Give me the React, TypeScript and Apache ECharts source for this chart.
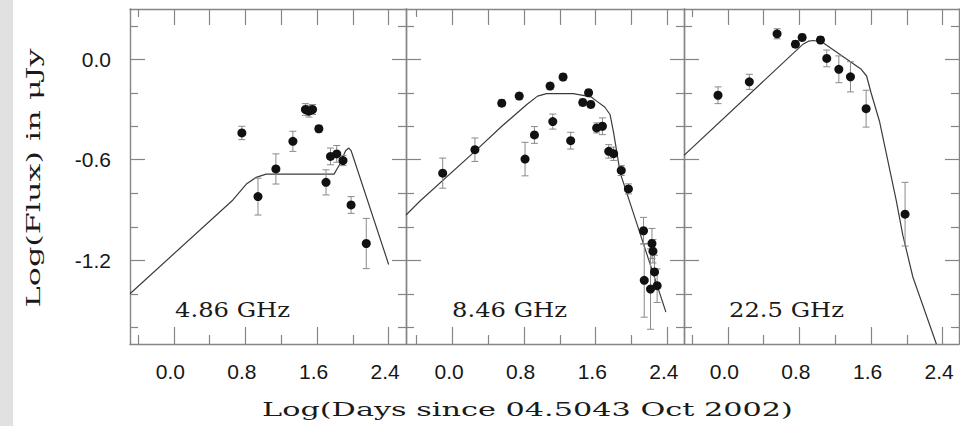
import React, { useEffect, useRef } from 'react';
import * as echarts from 'echarts';

// ---------------- data ----------------
const panelLabels = ['4.86 GHz', '8.46 GHz', '22.5 GHz'];
const xTitle = 'Log(Days since 04.5043 Oct 2002)';
const yTitle = 'Log(Flux) in \u03BCJy';

const xMajorTicks = [0, 0.8, 1.6, 2.4];
const xMinorTicks = [-0.4, 0.4, 1.2, 2.0];
const xTopTicks = [0, 0.4, 0.8, 1.2, 1.6, 2.0, 2.4];
const xTopMinorTicks = [-0.4];
const yMajorTicks = [0, -0.6, -1.2];
const yMinorTicks = [0.2, -0.2, -0.4, -0.8, -1.0, -1.4, -1.6];

// [log days, log flux, error]
const obs486: number[][] = [
  [0.76, -0.44, 0.04],
  [0.94, -0.82, 0.11],
  [1.14, -0.655, 0.09],
  [1.33, -0.49, 0.06],
  [1.47, -0.3, 0.035],
  [1.51, -0.31, 0.035],
  [1.55, -0.3, 0.03],
  [1.62, -0.415, 0.02],
  [1.7, -0.735, 0.075],
  [1.75, -0.58, 0.05],
  [1.82, -0.565, 0.05],
  [1.89, -0.605, 0.03],
  [1.98, -0.87, 0.05],
  [2.15, -1.1, 0.15],
];
const model486: number[][] = [
  [-0.49, -1.4], [0.66, -0.84], [0.81, -0.745], [0.92, -0.705], [1.03, -0.686],
  [1.79, -0.686], [1.85, -0.63], [1.92, -0.545], [1.955, -0.53], [1.98, -0.545], [2.4, -1.225],
];

const obs846: number[][] = [
  [-0.11, -0.68, 0.09],
  [0.25, -0.54, 0.07],
  [0.55, -0.262, 0.02],
  [0.745, -0.22, 0.02],
  [0.81, -0.596, 0.1],
  [0.915, -0.452, 0.05],
  [1.09, -0.16, 0.02],
  [1.12, -0.372, 0.045],
  [1.235, -0.106, 0.02],
  [1.32, -0.486, 0.05],
  [1.455, -0.258, 0.02],
  [1.52, -0.2, 0.02],
  [1.545, -0.27, 0.02],
  [1.61, -0.41, 0.03],
  [1.675, -0.4, 0.05],
  [1.745, -0.55, 0.04],
  [1.8, -0.564, 0.04],
  [1.885, -0.664, 0.03],
  [1.965, -0.774, 0.03],
  [2.134, -1.024, 0.08],
  [2.228, -1.1, 0.09],
  [2.239, -1.146, 0.07],
  [2.257, -1.27, 0.1],
  [2.142, -1.32, 0.22],
  [2.212, -1.372, 0.24],
  [2.286, -1.352, 0.1],
];
const model846: number[][] = [
  [-0.52, -0.93], [-0.36, -0.845], [0.25, -0.55], [0.55, -0.4], [0.83, -0.27], [0.95, -0.22],
  [1.05, -0.205], [1.35, -0.205], [1.55, -0.225], [1.61, -0.25], [1.7, -0.285], [1.76, -0.33],
  [1.8, -0.44], [1.874, -0.68], [2.384, -1.51],
];

const obs225: number[][] = [
  [-0.11, -0.215, 0.05],
  [0.24, -0.135, 0.045],
  [0.55, 0.152, 0.03],
  [0.755, 0.09, 0.02],
  [0.83, 0.13, 0.02],
  [1.035, 0.115, 0.02],
  [1.105, 0.005, 0.05],
  [1.24, -0.06, 0.08],
  [1.37, -0.105, 0.09],
  [1.545, -0.295, 0.11],
  [1.98, -0.925, 0.19],
];
const model225: number[][] = [
  [-0.49, -0.574], [0.84, 0.09], [0.9, 0.108], [0.96, 0.112], [1.06, 0.1], [1.49, -0.06],
  [1.55, -0.1], [1.6, -0.2], [1.694, -0.37], [1.88, -0.84], [1.955, -1.05], [2.067, -1.3], [2.33, -1.7],
];

const observations = [obs486, obs846, obs225];
const models = [model486, model846, model225];

// ---------------- layout ----------------
const GRID_TOP = 9;
const GRID_H = 335;
const PX_PER_UNIT = 89.5;
const gridBoxes = [
  { left: 130, width: 276 },
  { left: 406, width: 278 },
  { left: 684, width: 275 },
];
const xMins = [-0.49, -0.52, -0.49];
const yMin = -1.7;
const yMax = 0.3;

const FRAME = '#858585';
const TEXT = '#161616';
const TICK_FONT = '"Liberation Sans", Arial, sans-serif';
const SERIF = '"DejaVu Serif", serif';

function measure(text: string, font: string): number {
  const c = document.createElement('canvas').getContext('2d');
  if (!c) return text.length * 10;
  c.font = font;
  return c.measureText(text).width;
}

function fmt(v: number) {
  return (Math.abs(v) < 1e-9 ? 0 : v).toFixed(1);
}

function buildOption() {
  const grid: any[] = [];
  const xAxis: any[] = [];
  const yAxis: any[] = [];
  const series: any[] = [];

  gridBoxes.forEach((g, i) => {
    grid.push({ left: g.left, top: GRID_TOP, width: g.width, height: GRID_H, outerBoundsMode: 'none', containLabel: false });
    const xmin = xMins[i];
    const xmax = xmin + g.width / PX_PER_UNIT;
    const lineOn = { show: true, onZero: false, lineStyle: { color: FRAME, width: 1.4 } };
    const lineOff = { show: false, onZero: false };
    const tick = (vals: number[], len: number) => ({
      show: true, inside: true, length: len, customValues: vals,
      lineStyle: { color: FRAME, width: 1.2 },
    });
    const xBase = { type: 'value', gridIndex: i, min: xmin, max: xmax, splitLine: { show: false }, axisLabel: { show: false } };
    xAxis.push(
      {
        ...xBase, position: 'bottom', axisLine: lineOn, axisTick: tick(xMajorTicks, 17),
        axisLabel: {
          show: true, customValues: xMajorTicks, formatter: (v: number) => fmt(v), margin: 17,
          fontSize: 21, fontFamily: TICK_FONT, color: TEXT, padding: [0, 7, 0, 0],
        },
      },
      { ...xBase, position: 'bottom', axisLine: lineOff, axisTick: tick(xMinorTicks, 9) },
      { ...xBase, position: 'top', axisLine: lineOn, axisTick: tick(xTopTicks, 16) },
      { ...xBase, position: 'top', axisLine: lineOff, axisTick: tick(xTopMinorTicks, 8) },
    );
    const yBase = { type: 'value', gridIndex: i, min: yMin, max: yMax, splitLine: { show: false }, axisLabel: { show: false } };
    yAxis.push(
      {
        ...yBase, position: 'left', axisLine: lineOn, axisTick: tick(yMajorTicks, 15),
        axisLabel: {
          show: i === 0, customValues: yMajorTicks, formatter: (v: number) => fmt(v), margin: 19,
          fontSize: 21, fontFamily: TICK_FONT, color: TEXT, padding: [10, 0, 0, 0],
        },
      },
      { ...yBase, position: 'left', axisLine: lineOff, axisTick: tick(yMinorTicks, 8) },
      { ...yBase, position: 'right', axisLine: lineOn, axisTick: tick(yMajorTicks, 14) },
      { ...yBase, position: 'right', axisLine: lineOff, axisTick: tick(yMinorTicks, 8) },
    );

    const xi = i * 4;
    const yi = i * 4;
    series.push(
      {
        type: 'line', xAxisIndex: xi, yAxisIndex: yi, data: models[i], showSymbol: false, symbol: 'none',
        lineStyle: { color: '#3c3c3c', width: 1.2 }, silent: true, z: 2,
      },
      {
        type: 'custom', xAxisIndex: xi, yAxisIndex: yi, silent: true, z: 3,
        data: observations[i].map(([x, y, e]) => [x, y - e, y + e]),
        encode: { x: 0, y: [1, 2] },
        renderItem: (_p: any, api: any) => {
          const x = api.value(0);
          const lo = api.coord([x, api.value(1)]);
          const hi = api.coord([x, api.value(2)]);
          const hw = 3.5;
          const st = { stroke: '#8a8a8a', lineWidth: 1 };
          return {
            type: 'group',
            children: [
              { type: 'line', shape: { x1: lo[0], y1: lo[1], x2: hi[0], y2: hi[1] }, style: st },
              { type: 'line', shape: { x1: lo[0] - hw, y1: lo[1], x2: lo[0] + hw, y2: lo[1] }, style: st },
              { type: 'line', shape: { x1: hi[0] - hw, y1: hi[1], x2: hi[0] + hw, y2: hi[1] }, style: st },
            ],
          };
        },
      },
      {
        type: 'scatter', xAxisIndex: xi, yAxisIndex: yi, silent: true, z: 4,
        data: observations[i].map(([x, y]) => [x, y]),
        symbol: 'circle', symbolSize: 9, itemStyle: { color: '#111', opacity: 1 },
      },
    );
  });

  // titles and labels
  const labelFont = `20px ${SERIF}`;
  const titleFont = `19px ${SERIF}`;
  const labelX = [175, 452, 729];
  const labelW = 115;
  const graphic: any[] = [
    { type: 'rect', left: 0, top: 0, shape: { x: 0, y: 0, width: 13, height: 426 }, style: { fill: '#e1e1e1' }, z: -10 },
  ];
  panelLabels.forEach((t, i) => {
    const w = measure(t, labelFont);
    graphic.push({
      type: 'text', x: labelX[i], y: 310, scaleX: labelW / w, scaleY: 1,
      style: {
        text: t, fill: '#1a1a1a', fontSize: 20, fontFamily: SERIF,
        align: 'left', verticalAlign: 'middle', textAlign: 'left', textVerticalAlign: 'middle',
      },
    });
  });
  const xtW = measure(xTitle, titleFont);
  graphic.push({
    type: 'text', x: 527.5, y: 410, scaleX: 531 / xtW, scaleY: 1,
    style: {
      text: xTitle, fill: '#1a1a1a', fontSize: 19, fontFamily: SERIF,
      align: 'center', verticalAlign: 'middle', textAlign: 'center', textVerticalAlign: 'middle',
    },
  });
  const ytW = measure(yTitle, titleFont);
  graphic.push({
    type: 'text', x: 33, y: 178, rotation: Math.PI / 2, scaleX: 259 / ytW, scaleY: 1,
    style: {
      text: yTitle, fill: '#1a1a1a', fontSize: 19, fontFamily: SERIF,
      align: 'center', verticalAlign: 'middle', textAlign: 'center', textVerticalAlign: 'middle',
    },
  });

  return {
    animation: false,
    backgroundColor: '#ffffff',
    grid, xAxis, yAxis, series, graphic,
  };
}

export default function App() {
  const ref = useRef<HTMLDivElement>(null);
  useEffect(() => {
    if (!ref.current) return;
    const chart = echarts.init(ref.current, null, { renderer: 'svg' });
    chart.setOption(buildOption() as any);
    return () => chart.dispose();
  }, []);
  return (
    <div
      ref={ref}
      style={{ position: 'absolute', left: 0, top: 0, width: 960, height: 426, background: '#fff' }}
    />
  );
}
